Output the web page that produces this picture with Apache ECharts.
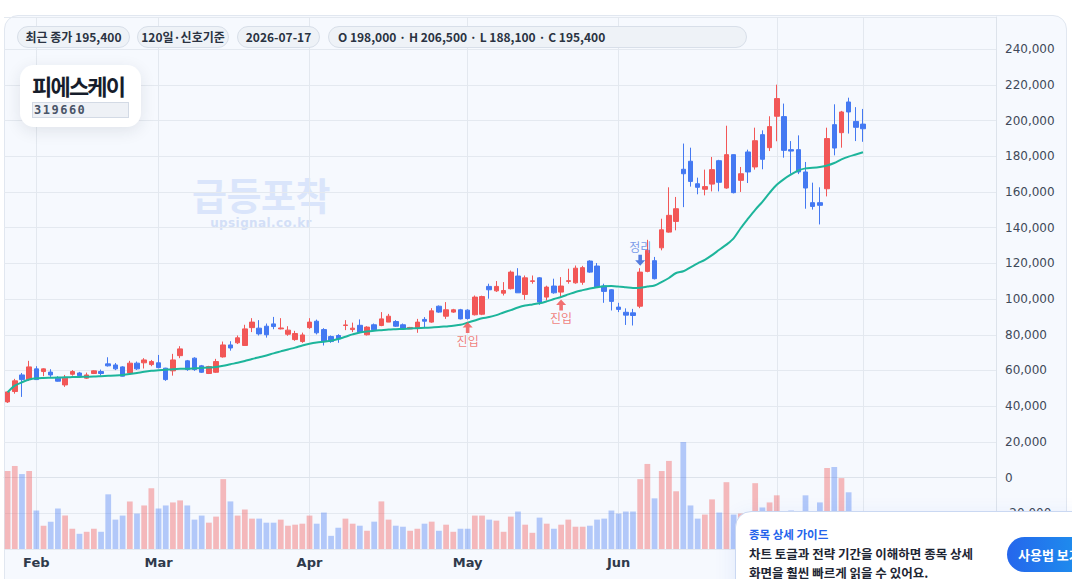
<!DOCTYPE html>
<html>
<head>
<meta charset="utf-8">
<script src="https://cdn.jsdelivr.net/npm/echarts@6/dist/echarts.min.js"></script>
<style>
  body { margin: 0; width: 1072px; height: 579px; overflow: hidden; position: relative; background: #fff;
         font-family: 'Noto Sans CJK KR', 'DejaVu Sans', sans-serif; }
  #panel { position: absolute; left: 4px; top: 15px; width: 1063px; height: 640px; box-sizing: border-box;
           background: #f6f9fe; border: 1px solid #e1e7f0; border-radius: 14px; }
  #wm { position: absolute; left: 178px; top: 171px; width: 166px; text-align: center; }
  #wm .big { font-size: 38px; font-weight: 700; line-height: 45px; color: #dae5fb; letter-spacing: -0.5px; }
  #wm .url { font-family: 'DejaVu Sans', sans-serif; font-size: 12px; font-weight: 700; line-height: 14px; color: #d3dff7; letter-spacing: 0.4px; }
  #main { position: absolute; left: 0; top: 0; width: 1072px; height: 579px; }
  .pill { position: absolute; top: 26px; height: 22px; box-sizing: border-box; border: 1px solid #d8dfe9; border-radius: 11px;
          background: #eef2f7; color: #2a3342; font-size: 12px; font-weight: 600; line-height: 20px; text-align: center; white-space: nowrap; }
  #card { position: absolute; left: 20px; top: 65px; width: 121px; height: 62px; box-sizing: border-box; padding: 7px 12px 0 12px;
          background: #fff; border-radius: 14px; box-shadow: 0 4px 16px rgba(30, 41, 59, 0.10); }
  #card .name { font-size: 22px; font-weight: 700; line-height: 26px; color: #161d2b; letter-spacing: -1.8px; white-space: nowrap; }
  #card .code { margin-top: 4px; width: 97px; height: 16px; box-sizing: border-box; border: 1px solid #d3dae5; background: #eef1f6;
                font-family: 'DejaVu Sans Mono', monospace; font-size: 12px; font-weight: 700; line-height: 14px; color: #4a5568;
                letter-spacing: 1.5px; padding-left: 1px; }
  #guide { position: absolute; left: 735px; top: 511px; width: 380px; height: 110px; box-sizing: border-box;
           background: #fff; border: 1px solid #cad8f2; border-radius: 16px; box-shadow: 0 6px 22px rgba(37, 99, 235, 0.10); }
  #guide .t { position: absolute; left: 13px; top: 15px; font-size: 11.5px; font-weight: 600; color: #2563eb; line-height: 14px; white-space: nowrap; }
  #guide .b { position: absolute; left: 13px; top: 32px; font-size: 12.5px; font-weight: 700; color: #1e2533; line-height: 19px; white-space: nowrap; }
  #guide .btn { position: absolute; left: 271px; top: 25px; width: 110px; height: 35px; border-radius: 18px;
                background: linear-gradient(90deg, #2566ec, #1aa3ee); color: #fff; font-size: 13px; font-weight: 700;
                line-height: 35px; padding-left: 11px; box-sizing: border-box; white-space: nowrap; }
</style>
</head>
<body>
<div id="panel"></div>
<div id="wm"><div class="big">급등포착</div><div class="url">upsignal.co.kr</div></div>
<div id="main"></div>

<div class="pill" style="left:17px;width:113px;">최근 종가 195,400</div>
<div class="pill" style="left:137px;width:92px;">120일·신호기준</div>
<div class="pill" style="left:237px;width:83px;">2026-07-17</div>
<div class="pill" style="left:328px;width:419px;text-align:left;padding-left:9px;">O 198,000 · H 206,500 · L 188,100 · C 195,400</div>

<div id="card"><div class="name">피에스케이</div><div class="code">319660</div></div>

<div id="guide">
  <div class="t">종목 상세 가이드</div>
  <div class="b">차트 토글과 전략 기간을 이해하면 종목 상세<br>화면을 훨씬 빠르게 읽을 수 있어요.</div>
  <div class="btn">사용법 보기</div>
</div>

<script>
// 거래일 (120일)
var dates = [
  '2026-01-27','2026-01-28','2026-01-29','2026-01-30',
  '2026-02-02','2026-02-03','2026-02-04','2026-02-05','2026-02-06','2026-02-09','2026-02-10','2026-02-11','2026-02-12','2026-02-13',
  '2026-02-19','2026-02-20','2026-02-23','2026-02-24','2026-02-25','2026-02-26','2026-02-27',
  '2026-03-03','2026-03-04','2026-03-05','2026-03-06','2026-03-09','2026-03-10','2026-03-11','2026-03-12','2026-03-13','2026-03-16',
  '2026-03-17','2026-03-18','2026-03-19','2026-03-20','2026-03-23','2026-03-24','2026-03-25','2026-03-26','2026-03-27','2026-03-30','2026-03-31',
  '2026-04-01','2026-04-02','2026-04-03','2026-04-06','2026-04-07','2026-04-08','2026-04-09','2026-04-10','2026-04-13','2026-04-14','2026-04-15',
  '2026-04-16','2026-04-17','2026-04-20','2026-04-21','2026-04-22','2026-04-23','2026-04-24','2026-04-27','2026-04-28','2026-04-29','2026-04-30',
  '2026-05-01','2026-05-04','2026-05-05','2026-05-06','2026-05-07','2026-05-08','2026-05-11','2026-05-12','2026-05-13','2026-05-14','2026-05-15',
  '2026-05-18','2026-05-19','2026-05-20','2026-05-21','2026-05-22','2026-05-25','2026-05-26','2026-05-27','2026-05-28','2026-05-29',
  '2026-06-01','2026-06-02','2026-06-03','2026-06-04','2026-06-05','2026-06-08','2026-06-09','2026-06-10','2026-06-11','2026-06-12','2026-06-15',
  '2026-06-16','2026-06-17','2026-06-18','2026-06-19','2026-06-22','2026-06-23','2026-06-24','2026-06-25','2026-06-26','2026-06-29','2026-06-30',
  '2026-07-01','2026-07-02','2026-07-03','2026-07-06','2026-07-07','2026-07-08','2026-07-09','2026-07-10','2026-07-13','2026-07-14','2026-07-15',
  '2026-07-16','2026-07-17'
];

var opens = [
  42400,48200,57500,54900,60900,59400,59100,55700,51900,57900,58600,55700,58300,59400,63700,63100,62000,58600,64100,64300,
  63300,64300,61300,59800,68300,65400,66900,62600,58300,59000,67600,74300,75500,74000,84000,83700,84800,86100,83300,80300,
  77300,76200,84000,87600,82900,79000,79600,85200,82900,85300,80000,85600,85200,87100,87400,85600,83300,83700,88600,87100,
  96000,90400,92700,94000,93800,91200,91500,107100,104600,103300,105800,112900,102600,109900,111900,101100,107300,103900,109900,109100,
  109400,121300,118500,107300,105200,95500,92600,92300,96000,115500,121500,128700,137500,143500,172700,177200,164600,161500,164400,177500,
  162200,180900,166500,182400,174000,192100,184800,202400,202200,183700,183700,171200,154000,154000,161800,197700,193200,210400,199500,198000
];
var closes = [
  48000,54200,54900,62000,54900,60900,57500,54000,55700,59400,57100,57500,59800,58300,62600,60900,56800,64100,60900,65900,
  65000,61600,54900,65900,72100,60500,60500,59000,62200,65000,74300,72600,78300,83300,87100,80500,80000,84600,83800,82600,
  80700,79900,87100,81100,76400,76200,77700,85500,83700,81500,84300,82800,88900,90400,84800,83300,84100,87100,87600,93400,
  92700,94000,94000,88900,89100,101100,101400,105200,107100,104800,115100,103500,111900,110200,98300,106700,103500,107300,110300,117300,
  117600,115100,106700,104300,98700,94200,91000,90800,115100,127300,111400,138800,146900,150600,170200,165900,162600,163000,172500,165400,
  180900,159600,170200,171200,188700,178300,196600,212300,183300,182900,171200,162200,151900,152500,189900,184600,204800,204800,196200,195400
];
var lows = [
  41800,47000,45200,54200,54700,56800,56400,53800,50800,57100,56800,55300,58000,57100,62200,60200,56600,58400,60300,61100,
  62400,61200,54200,57100,66900,59800,59800,58600,58000,58600,67200,71100,74800,74000,81500,79600,78400,83100,83000,79400,
  76600,75500,83300,80200,74000,75500,75500,82600,81500,80900,79600,82200,84800,87100,84400,82900,83300,81100,83700,86700,
  92300,88900,92300,88600,88500,90800,91000,100200,104000,102000,105400,103500,99600,108600,96800,99200,103000,101100,108600,108600,
  108000,114700,106700,97900,93600,92700,85500,85200,94900,115000,111000,127300,137200,138500,151500,163000,158700,158100,160300,160300,
  161800,159200,160000,165000,172500,172700,182900,188400,179200,170200,170000,150600,150100,141800,157500,180500,184800,192700,188500,188100
];
var highs = [
  48300,55300,58600,65400,62400,61200,60700,56800,57500,60200,59200,58800,60100,60500,67400,64200,62400,65400,65000,66900,
  65900,68700,61500,69300,73600,65900,67400,63100,62600,66500,76200,76400,79600,85600,89300,88200,86300,90000,89300,84800,
  82200,81200,89300,88500,83700,79600,80300,88200,86800,88600,84800,86300,92700,91700,88200,86300,84400,88900,89900,94900,
  96400,98300,94500,94500,94300,102000,101900,108600,110100,109500,116000,117300,113200,113200,112300,107500,111400,112300,117000,118800,
  118600,121700,120200,108600,105500,97900,94800,94500,117300,133200,123600,145000,162600,157200,187100,184800,168000,172500,179600,178000,
  197100,181000,174000,183700,196000,194500,202400,220100,209500,188500,191700,176800,165200,162600,196000,209100,205400,212800,207500,206500
];
// 이동평균선
var ma20 = [
  47800,51500,53400,54900,55600,55800,55900,56000,56200,56300,56400,56500,56600,56800,57000,57200,57500,58000,58600,59300,
  59800,60100,60400,60700,60900,61000,61200,61400,61600,61900,62600,63500,64300,65300,66400,67400,68400,69600,70700,71800,
  72800,74000,75000,75700,76100,76600,77600,78900,80200,81300,81900,82300,82600,82900,83100,83300,83500,83700,83900,84100,
  84300,84700,85100,85600,86800,88000,89200,89900,91000,92500,93800,95300,96400,97000,97600,98700,100000,101200,102600,104000,
  105000,105900,106600,107200,107300,107000,106600,106200,106400,107000,107600,109600,111800,114600,115600,117800,120000,122000,124600,127600,
  130500,134000,139800,145000,150000,154500,159500,164000,167200,169800,172000,173200,173500,174000,174800,176200,178200,179800,181000,182200
];
// 거래량 (천 주)
var volumeK = [
  1155,1230,1110,1155,570,345,405,600,495,300,225,255,300,255,810,435,495,705,525,645,
  900,600,645,690,720,645,435,495,390,480,1035,705,495,585,450,450,390,390,435,345,
  360,375,495,375,540,195,315,450,375,345,270,405,705,435,345,330,270,300,375,405,
  270,360,255,300,300,495,495,435,420,255,480,555,360,240,465,375,300,360,435,330,
  330,345,435,450,570,525,555,555,1035,1260,750,1155,1305,855,1585,645,450,510,735,540,
  990,510,525,400,975,615,690,795,425,570,475,795,450,690,1200,1215,1050,840,375,350
];
// 신호
var entryIdx = [64, 77];
var exitIdx = [88];
var monthNames = ['Jan','Feb','Mar','Apr','May','Jun','Jul','Aug','Sep','Oct','Nov','Dec'];
var padSlots = 18;

var UP = '#f25757', DOWN = '#4479f2';

var axisCats = dates.concat(new Array(padSlots).fill(''));
var candles = dates.map(function (d, i) { return [opens[i], closes[i], lows[i], highs[i]]; });
var vols = volumeK.map(function (v, i) {
  return { value: v * 1000, itemStyle: { color: closes[i] >= opens[i] ? 'rgba(242,87,87,0.40)' : 'rgba(68,121,242,0.38)' } };
});
function isMonthStart(i) {
  return i > 0 && i < dates.length && dates[i].slice(5, 7) !== dates[i - 1].slice(5, 7);
}

var chart = echarts.init(document.getElementById('main'), null, { renderer: 'svg' });
var option = {
  animation: false,
  backgroundColor: 'transparent',
  textStyle: { fontFamily: "'DejaVu Sans', 'Noto Sans CJK KR', sans-serif" },
  grid: [
    { left: 4, right: 76, top: 17, bottom: 30 },
    { left: 4, right: 76, top: 442, bottom: 30 }
  ],
  xAxis: [
    {
      type: 'category', gridIndex: 0, data: axisCats, boundaryGap: true,
      axisLine: { show: true, lineStyle: { color: '#dde3eb' } },
      axisTick: { show: false, alignWithLabel: true },
      axisLabel: {
        interval: function (i) { return isMonthStart(i); },
        formatter: function (v) { return v ? monthNames[parseInt(v.slice(5, 7), 10) - 1] : ''; },
        color: '#2f3a4b', fontSize: 13, fontWeight: 'bold', margin: 7
      },
      splitLine: {
        show: true, alignWithLabel: true,
        interval: function (i) { return isMonthStart(i) || i === dates.length - 1; },
        lineStyle: { color: '#e3e8ef', width: 1 }
      }
    },
    {
      type: 'category', gridIndex: 1, data: axisCats, boundaryGap: true,
      axisLine: { show: false }, axisTick: { show: false }, axisLabel: { show: false }, splitLine: { show: false }
    }
  ],
  yAxis: [
    {
      type: 'value', gridIndex: 0, position: 'right', min: -40000, max: 258000, interval: 20000,
      axisLine: { show: true, lineStyle: { color: '#dde3eb' } },
      axisTick: { show: false },
      axisLabel: {
        color: '#3f4959', fontSize: 12, margin: 9, showMaxLabel: false,
        formatter: function (v) { return v.toLocaleString('en-US'); }
      },
      splitLine: { lineStyle: { color: '#e4e9f0', width: 1 } }
    },
    {
      type: 'value', gridIndex: 1, min: 0, max: 'dataMax',
      axisLine: { show: false }, axisTick: { show: false }, axisLabel: { show: false }, splitLine: { show: false }
    }
  ],
  series: [
    {
      name: '거래량', type: 'bar', xAxisIndex: 1, yAxisIndex: 1, data: vols,
      barWidth: '80%', z: 1
    },
    {
      name: '캔들', type: 'candlestick', xAxisIndex: 0, yAxisIndex: 0, data: candles,
      barWidth: 5, z: 3,
      itemStyle: { color: UP, color0: DOWN, borderColor: UP, borderColor0: DOWN, borderWidth: 1 }
    },
    {
      name: 'MA', type: 'line', xAxisIndex: 0, yAxisIndex: 0, data: ma20,
      symbol: 'none', smooth: 0.3, z: 4,
      lineStyle: { color: '#1db59b', width: 2 }
    },
    {
      name: '진입', type: 'scatter', xAxisIndex: 0, yAxisIndex: 0, z: 5,
      data: entryIdx.map(function (i) { return [i, lows[i]]; }),
      symbol: 'path://M5,0 L10,5 L6.8,5 L6.8,10 L3.2,10 L3.2,5 L0,5 Z',
      symbolSize: [10, 11], symbolOffset: [0, 8],
      itemStyle: { color: '#f04e4e' },
      label: { show: true, position: 'bottom', distance: 1, formatter: '진입', color: '#ee5e59', fontSize: 12,
               fontFamily: "'Noto Sans CJK KR', sans-serif" }
    },
    {
      name: '정리', type: 'scatter', xAxisIndex: 0, yAxisIndex: 0, z: 5,
      data: exitIdx.map(function (i) { return [i, highs[i]]; }),
      symbol: 'path://M3.2,0 L6.8,0 L6.8,5 L10,5 L5,10 L0,5 L3.2,5 Z',
      symbolSize: [10, 11], symbolOffset: [0, -8],
      itemStyle: { color: '#2a5bd7' },
      label: { show: true, position: 'top', distance: 2, formatter: '정리', color: '#5b84e4', fontSize: 12,
               fontFamily: "'Noto Sans CJK KR', sans-serif" }
    }
  ]
};
chart.setOption(option);
</script>
</body>
</html>
